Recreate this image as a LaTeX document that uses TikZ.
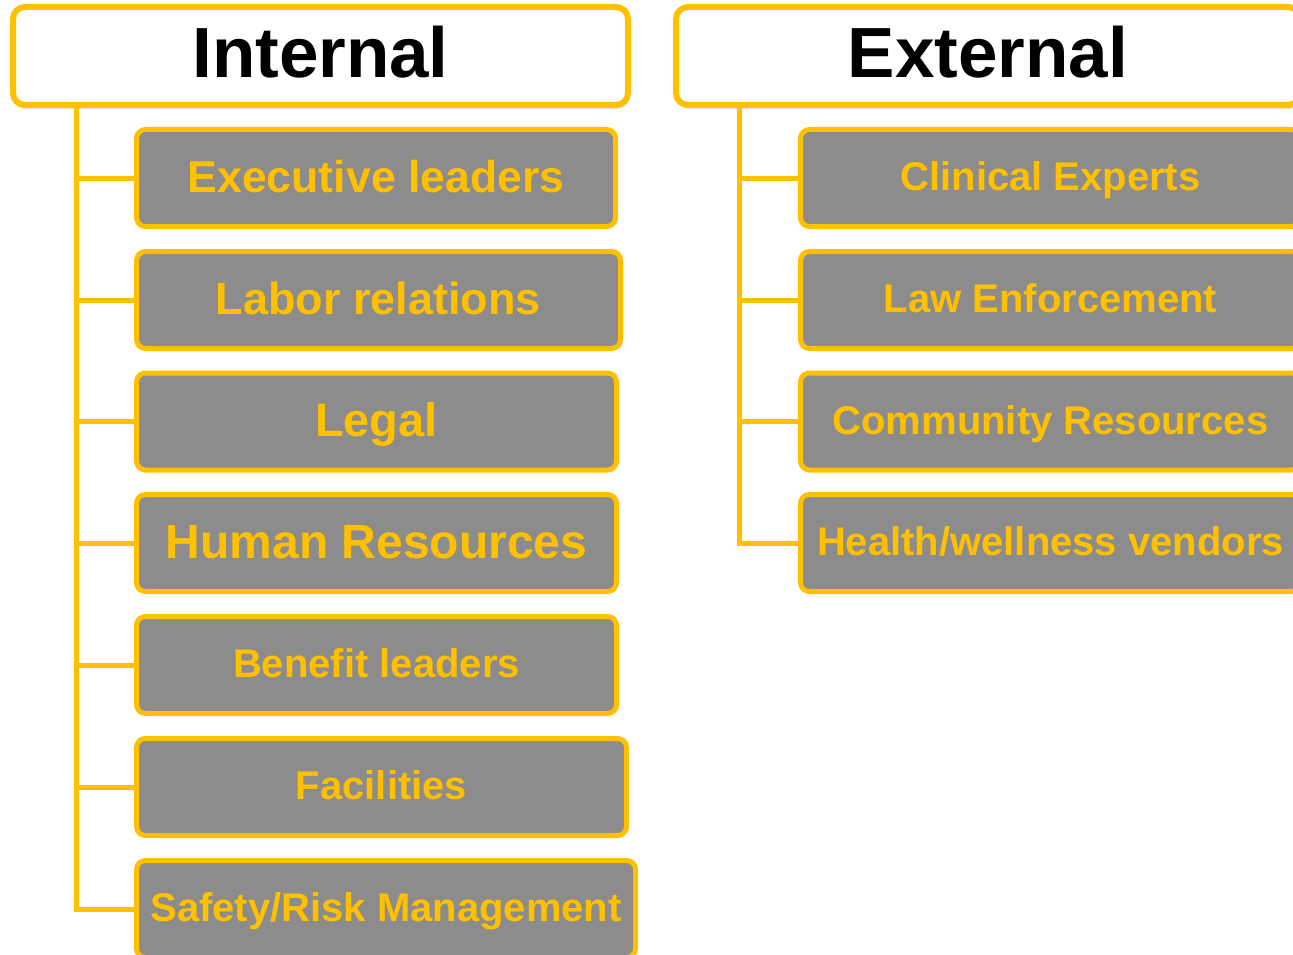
\documentclass[tikz,border=0pt]{standalone}
\usepackage{fontspec}
\setmainfont{Liberation Sans}
\usetikzlibrary{shadows}
\definecolor{gold}{HTML}{FFC000}
\definecolor{boxgrey}{HTML}{8C8C8C}
\tikzset{
  hdr/.style={draw=gold, line width=6pt, fill=white, rounded corners=12pt,
    inner sep=0pt, minimum height=98pt, text height=51pt, text depth=7pt,
    font=\fontsize{71}{80}\selectfont\bfseries,
    drop shadow={opacity=0.22, shadow xshift=1pt, shadow yshift=-4pt}},
  item/.style={draw=gold, line width=5pt, fill=boxgrey, rounded corners=9pt,
    inner sep=0pt, minimum height=97pt, text=gold, text depth=3pt},
  fsA/.style={font=\fontsize{40}{44}\selectfont\bfseries, text height=28.6pt},
  conn/.style={draw=gold, line width=5pt},
}
\begin{document}
\begin{tikzpicture}[x=1pt,y=-1pt]
\useasboundingbox (0,0) rectangle (1293,955);
\clip (0,0) rectangle (1293,955);

% headers
\node[hdr, minimum width=615pt] (ih) at (320.5,56) {Internal};
\node[hdr, minimum width=624pt] (eh) at (988,56) {External};

% spine coordinates
\coordinate (isp) at (76,0);
\coordinate (esp) at (739,0);

% internal items
\node[item, minimum width=479pt, font=\fontsize{44.6}{48}\selectfont\bfseries, text height=31.9pt] (i0) at (376,178) {Executive leaders};
\node[item, minimum width=484pt, font=\fontsize{45}{48}\selectfont\bfseries, text height=32.2pt] (i1) at (378.5,300) {Labor relations};
\node[item, minimum width=480pt, font=\fontsize{47}{50}\selectfont\bfseries, text height=33.7pt] (i2) at (376.5,421.5) {Legal};
\node[item, minimum width=480pt, font=\fontsize{48}{52}\selectfont\bfseries, text height=34.4pt] (i3) at (376.5,543) {Human Resources};
\node[item, minimum width=480pt, fsA] (i4) at (376.5,665) {Benefit leaders};
\node[item, minimum width=490pt, fsA] (i5) at (381.5,787) {Facilities};
\node[item, minimum width=499pt, fsA] (i6) at (386,909) {Safety/Risk Management};

% external items
\node[item, minimum width=500pt, fsA] (e0) at (1050.5,178) {Clinical Experts};
\node[item, minimum width=500pt, fsA] (e1) at (1050.5,300) {Law Enforcement};
\node[item, minimum width=500pt, fsA] (e2) at (1050.5,421.5) {Community Resources};
\node[item, minimum width=500pt, fsA] (e3) at (1050.5,543) {Health/wellness vendors};

% connectors
\draw[conn] (ih.south -| isp) |- (i6.west);
\foreach \n in {i0,i1,i2,i3,i4,i5}{
  \draw[conn] (isp |- \n.west) -- (\n.west);
}
\draw[conn] (eh.south -| esp) |- (e3.west);
\foreach \n in {e0,e1,e2}{
  \draw[conn] (esp |- \n.west) -- (\n.west);
}
\end{tikzpicture}
\end{document}
